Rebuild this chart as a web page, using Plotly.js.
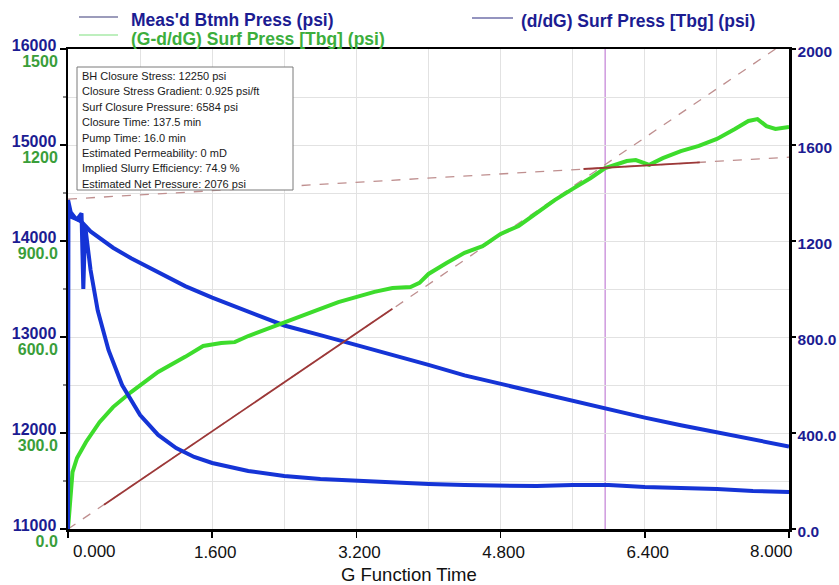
<!DOCTYPE html>
<html>
<head>
<meta charset="utf-8">
<script src="https://cdn.plot.ly/plotly-3.0.1.min.js"></script>
<style>
  html, body { margin: 0; padding: 0; background: #ffffff; }
  #chart { width: 839px; height: 585px; }
</style>
</head>
<body>
<div id="chart"></div>
<script>
// ---- Measured bottomhole pressure (psi, left axis) vs G function time ----
const btmhG = [0, 0.03, 0.08, 0.15, 0.25, 0.35, 0.5, 0.7, 1.0, 1.3, 1.6, 2.0, 2.4, 2.8, 3.2,
               3.6, 4.0, 4.4, 4.8, 5.2, 5.6, 5.96, 6.4, 6.8, 7.2, 7.6, 8.0];
const btmhPress = [14430, 14300, 14240, 14200, 14100, 14030, 13930, 13820, 13670, 13530, 13410,
                   13260, 13120, 13020, 12920, 12810, 12710, 12600, 12510, 12430, 12340, 12250,
                   12160, 12080, 12010, 11940, 11860];

// ---- d/dG surface pressure (psi, right axis) ----
const derivG = [0, 0.005, 0.04, 0.1, 0.15, 0.17, 0.19, 0.25, 0.33, 0.45, 0.6, 0.8, 1.0, 1.2,
                1.4, 1.6, 2.0, 2.4, 2.8, 3.2, 3.6, 4.0, 4.4, 4.8, 5.2, 5.6, 6.0, 6.4, 6.8,
                7.2, 7.6, 8.0];
const derivPress = [0, 1340, 1300, 1290, 1315, 1000, 1265, 1080, 910, 745, 600, 475, 392, 337,
                    300, 275, 242, 221, 208, 200, 196, 188, 183, 179, 179, 183, 183, 175, 171,
                    167, 158, 154];

// ---- G·dP/dG surface pressure (psi, second left scale) ----
const gdpG = [0, 0.02, 0.05, 0.1, 0.2, 0.35, 0.5, 0.7, 1.0, 1.3, 1.5, 1.7, 1.85, 2.0, 2.2,
              2.4, 2.6, 2.8, 3.0, 3.2, 3.4, 3.6, 3.8, 3.9, 4.0, 4.2, 4.4, 4.6, 4.8, 5.0,
              5.2, 5.4, 5.6, 5.8, 5.96, 6.1, 6.2, 6.3, 6.45, 6.6, 6.8, 7.0, 7.2, 7.4,
              7.55, 7.65, 7.75, 7.85, 8.0];
const gdpPress = [0, 90, 178, 222, 272, 334, 381, 428, 491, 538, 572, 581, 584, 603, 625,
                  647, 669, 688, 709, 725, 741, 753, 756, 769, 797, 831, 863, 884, 922, 947,
                  988, 1028, 1063, 1097, 1128, 1141, 1150, 1153, 1138, 1159, 1181, 1197, 1219,
                  1250, 1275, 1281, 1259, 1250, 1256];

// ---- Straight-line fits on the G·dP/dG curve ----
const originFitG = [0, 7.85];
const originFitP = [0, 1500];
const originSolidG = [0.4, 3.6];
const originSolidP = [76, 688];
const afterFitG = [0, 8];
const afterFitP = [1031, 1162];
const afterSolidG = [5.72, 7.01];
const afterSolidP = [1125, 1146];

// closure G time
const closureG = 5.96;

// ---- Axis ticks (end labels are set inside the frame separately) ----
const xTickVals = [0, 1.6, 3.2, 4.8, 6.4, 8.0];
const xTickText = ['', '1.600', '3.200', '4.800', '6.400', ''];
const xEndLabels = ['0.000', '8.000'];
const xGridVals = [0.8, 2.4, 4.0, 5.6, 7.2];
const btmhTickVals = [11000, 12000, 13000, 14000, 15000, 16000];
const btmhTickText = ['11000', '12000', '13000', '14000', '15000', '16000'];
const btmhGridVals = [11500, 12500, 13500, 14500, 15500];
const gdpTickVals = [0, 300, 600, 900, 1200, 1500];
const gdpTickText = ['0.0', '300.0', '600.0', '900.0', '1200', '1500'];
const derivTickVals = [0, 400, 800, 1200, 1600, 2000];
const derivTickText = ['0.0', '400.0', '800.0', '1200', '1600', '2000'];

// ---- Summary box lines ----
const summaryLines = [
  'BH Closure Stress: 12250 psi',
  'Closure Stress Gradient: 0.925 psi/ft',
  'Surf Closure Pressure: 6584 psi',
  'Closure Time: 137.5 min',
  'Pump Time: 16.0 min',
  'Estimated Permeability: 0 mD',
  'Implied Slurry Efficiency: 74.9 %',
  'Estimated Net Pressure: 2076 psi'
];

const FONT = 'Liberation Sans, Arial, Helvetica, sans-serif';
const NAVY = '#1c1c92';
const BLUE = '#1534d6';
const GREEN = '#3ddc2c';
const GREEN_TXT = '#3cae3c';
const GREEN_TICK = '#3a9e3a';
const GRID = '#e2e2e2';

// pixel helpers for paper-referenced decorations
const PL = 68, PR = 789, PT = 49, PB = 529;
const px = x => (x - PL) / (PR - PL);
const py = y => (PB - y) / (PB - PT);

const traces = [
  { x: originFitG, y: originFitP, yaxis: 'y2', mode: 'lines',
    line: { color: '#bf8f8f', width: 1.3, dash: 'dash' }, hoverinfo: 'skip' },
  { x: afterFitG, y: afterFitP, yaxis: 'y2', mode: 'lines',
    line: { color: '#bf8f8f', width: 1.3, dash: 'dash' }, hoverinfo: 'skip' },
  { x: btmhG, y: btmhPress, yaxis: 'y', mode: 'lines', name: "Meas'd Btmh Press (psi)",
    line: { color: BLUE, width: 4 } },
  { x: derivG, y: derivPress, yaxis: 'y3', mode: 'lines', name: '(d/dG) Surf Press [Tbg] (psi)',
    line: { color: BLUE, width: 4 } },
  { x: originSolidG, y: originSolidP, yaxis: 'y2', mode: 'lines',
    line: { color: '#9c3838', width: 1.8 }, hoverinfo: 'skip' },
  { x: gdpG, y: gdpPress, yaxis: 'y2', mode: 'lines', name: '(G-d/dG) Surf Press [Tbg] (psi)',
    line: { color: GREEN, width: 4 } },
  { x: afterSolidG, y: afterSolidP, yaxis: 'y2', mode: 'lines',
    line: { color: '#9c3838', width: 1.8 }, hoverinfo: 'skip' }
];

const annotations = [];
// legend text
annotations.push({ xref: 'paper', yref: 'paper', x: px(129), y: py(20), xanchor: 'left',
  yanchor: 'middle', showarrow: false, text: "<b>Meas'd Btmh Press (psi)</b>",
  font: { family: FONT, size: 17.5, color: NAVY } });
annotations.push({ xref: 'paper', yref: 'paper', x: px(129), y: py(39), xanchor: 'left',
  yanchor: 'middle', showarrow: false, text: '<b>(G-d/dG) Surf Press [Tbg] (psi)</b>',
  font: { family: FONT, size: 17.5, color: GREEN_TXT } });
annotations.push({ xref: 'paper', yref: 'paper', x: px(519), y: py(21), xanchor: 'left',
  yanchor: 'middle', showarrow: false, text: '<b>(d/dG) Surf Press [Tbg] (psi)</b>',
  font: { family: FONT, size: 17.5, color: NAVY } });
// first and last G tick labels, kept inside the frame width
annotations.push({ xref: 'x', yref: 'paper', x: xTickVals[0], y: py(551), xanchor: 'left',
  yanchor: 'middle', xshift: 3, showarrow: false, text: xEndLabels[0],
  font: { family: FONT, size: 17, color: '#111111' } });
annotations.push({ xref: 'x', yref: 'paper', x: xTickVals[xTickVals.length - 1], y: py(551),
  xanchor: 'right', yanchor: 'middle', xshift: 6, showarrow: false, text: xEndLabels[1],
  font: { family: FONT, size: 17, color: '#111111' } });
// summary box text
summaryLines.forEach((t, i) => {
  annotations.push({ xref: 'paper', yref: 'paper', x: px(80), y: py(76 + 15.4 * i),
    xanchor: 'left', yanchor: 'middle', showarrow: false, text: t,
    font: { family: FONT, size: 11, color: '#1a1a1a' } });
});
// x axis title
annotations.push({ xref: 'paper', yref: 'paper', x: px(409), y: py(574), xanchor: 'center',
  yanchor: 'middle', showarrow: false, text: 'G Function Time',
  font: { family: FONT, size: 18.5, color: '#111111' } });

const shapes = [
  // legend samples
  { type: 'line', xref: 'paper', yref: 'paper', x0: px(79), x1: px(118), y0: py(17), y1: py(17),
    line: { color: '#3a3a78', width: 1.2 } },
  { type: 'line', xref: 'paper', yref: 'paper', x0: px(79), x1: px(118), y0: py(35), y1: py(35),
    line: { color: '#7fe07f', width: 1.2 } },
  { type: 'line', xref: 'paper', yref: 'paper', x0: px(472), x1: px(513), y0: py(18), y1: py(18),
    line: { color: '#2a2a80', width: 1.2 } },
  // closure marker
  { type: 'line', xref: 'x', yref: 'paper', x0: closureG, x1: closureG, y0: 0, y1: 1,
    layer: 'below', line: { color: '#c78ad9', width: 1.3 } },
  // summary box
  { type: 'rect', xref: 'paper', yref: 'paper', x0: px(77), x1: px(293), y0: py(190), y1: py(67),
    layer: 'above', fillcolor: '#ffffff', line: { color: '#7a7a7a', width: 1 } }
];

const layout = {
  width: 839, height: 585,
  margin: { l: PL, r: 839 - PR, t: PT, b: 585 - PB, pad: 0 },
  paper_bgcolor: '#ffffff', plot_bgcolor: '#ffffff',
  showlegend: false,
  font: { family: FONT },
  xaxis: {
    range: [0, 8], tickmode: 'array', tickvals: xTickVals, ticktext: xTickText,
    ticks: 'outside', ticklen: 6, tickwidth: 1.5, tickcolor: '#000000',
    tickfont: { family: FONT, size: 17, color: '#111111' }, ticklabelshift: 3,
    showline: true, linecolor: '#000000', linewidth: 2.5, mirror: true,
    showgrid: true, gridcolor: GRID, gridwidth: 1, zeroline: false,
    minor: { tickmode: 'array', tickvals: xGridVals, showgrid: true, gridcolor: GRID, ticks: '' }
  },
  yaxis: {
    range: [11000, 16000], tickmode: 'array', tickvals: btmhTickVals, ticktext: btmhTickText,
    ticks: 'outside', ticklen: 6, tickwidth: 1.5, tickcolor: '#000000',
    tickfont: { family: FONT, size: 16, color: NAVY, weight: 'bold' }, ticklabelshift: -4,
    showline: true, linecolor: '#000000', linewidth: 2.5,
    showgrid: true, gridcolor: GRID, gridwidth: 1, zeroline: false,
    minor: { tickmode: 'array', tickvals: btmhGridVals, showgrid: true, gridcolor: GRID,
             ticks: 'outside', ticklen: 3, tickcolor: '#888888' }
  },
  yaxis2: {
    overlaying: 'y', side: 'left', anchor: 'x', range: [0, 1500],
    tickmode: 'array', tickvals: gdpTickVals, ticktext: gdpTickText,
    ticks: 'outside', ticklen: 6, tickcolor: 'rgba(0,0,0,0)',
    tickfont: { family: FONT, size: 16, color: GREEN_TICK, weight: 'bold' }, ticklabelshift: 12,
    showline: false, showgrid: false, zeroline: false
  },
  yaxis3: {
    overlaying: 'y', side: 'right', anchor: 'x', range: [0, 2000],
    tickmode: 'array', tickvals: derivTickVals, ticktext: derivTickText,
    ticks: 'outside', ticklen: 4, tickwidth: 1.5, tickcolor: '#000000',
    tickfont: { family: FONT, size: 15.5, color: NAVY, weight: 'bold' }, ticklabelshift: 3,
    ticklabelstandoff: -1,
    showline: true, linecolor: '#000000', linewidth: 2.5,
    showgrid: false, zeroline: false
  },
  annotations: annotations,
  shapes: shapes
};

Plotly.newPlot('chart', traces, layout, { displayModeBar: false, staticPlot: true });
</script>
</body>
</html>
